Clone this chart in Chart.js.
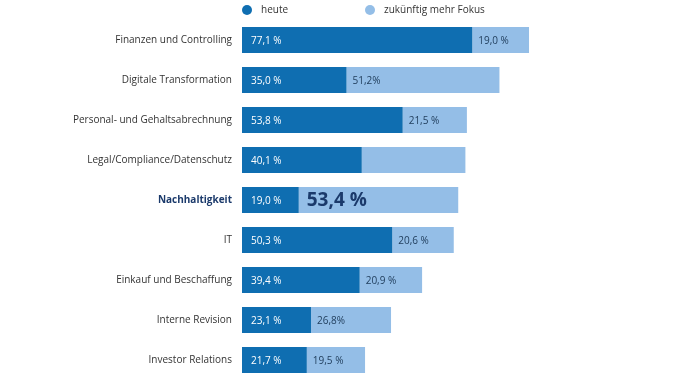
<!DOCTYPE html>
<html><head><meta charset="utf-8">
<script src="https://cdn.jsdelivr.net/npm/chart.js@4/dist/chart.umd.min.js"></script>
<style>html,body{margin:0;padding:0;background:#fff;overflow:hidden}canvas{display:block}</style>
</head><body><canvas id="c" width="700" height="382"></canvas>
<script>
const categories = ["Finanzen und Controlling","Digitale Transformation","Personal- und Gehaltsabrechnung","Legal/Compliance/Datenschutz","Nachhaltigkeit","IT","Einkauf und Beschaffung","Interne Revision","Investor Relations"];
const heute = [77.1,35.0,53.8,40.1,19.0,50.3,39.4,23.1,21.7];
const zukunft = [19.0,51.2,21.5,34.7,53.4,20.6,20.9,26.8,19.5];
const heuteLabels = ["77,1 %","35,0 %","53,8 %","40,1 %","19,0 %","50,3 %","39,4 %","23,1 %","21,7 %"];
const zukunftLabels = ["19,0 %","51,2%","21,5 %","","53,4 %","20,6 %","20,9 %","26,8%","19,5 %"];
const seriesNames = ["heute","zukünftig mehr Fokus"];
const highlightIndex = 4;

const DARK = "#0f6eb1", LIGHT = "#94bee7", NAVY = "#1b3a6b";
const FONT = "'Open Sans', sans-serif";

const labelPlugin = {
  id: "valLabels",
  afterDatasetsDraw(chart) {
    const ctx = chart.ctx;
    ctx.save();
    ctx.textBaseline = "middle";
    ctx.textAlign = "left";
    chart.data.datasets.forEach((ds, di) => {
      const meta = chart.getDatasetMeta(di);
      const texts = di === 0 ? heuteLabels : zukunftLabels;
      meta.data.forEach((bar, i) => {
        const t = texts[i];
        if (!t) return;
        const start = bar.base;
        if (di === 1 && i === highlightIndex) {
          ctx.font = "bold 19px " + FONT;
          ctx.fillStyle = NAVY;
          ctx.fillText(t, start + 8, bar.y + 1);
        } else {
          ctx.font = "10px " + FONT;
          ctx.fillStyle = di === 0 ? "#ffffff" : "#23405f";
          ctx.fillText(t, start + (di === 0 ? 9 : 6), bar.y + 1);
        }
      });
    });
    ctx.restore();
  }
};

const legendPlugin = {
  id: "customLegend",
  afterDraw(chart) {
    const ctx = chart.ctx;
    ctx.save();
    ctx.font = "10px " + FONT;
    ctx.textBaseline = "middle";
    const items = [{x: 247, c: DARK}, {x: 370, c: LIGHT}];
    items.forEach((it, i) => {
      ctx.fillStyle = it.c;
      ctx.beginPath();
      ctx.arc(it.x, 10, 5, 0, Math.PI * 2);
      ctx.fill();
      ctx.fillStyle = "#333333";
      ctx.fillText(seriesNames[i], it.x + 14, 10);
    });
    ctx.restore();
  }
};

new Chart(document.getElementById("c"), {
  type: "bar",
  data: {
    labels: categories,
    datasets: [
      {label: seriesNames[0], data: heute, backgroundColor: DARK},
      {label: seriesNames[1], data: zukunft, backgroundColor: LIGHT}
    ]
  },
  options: {
    indexAxis: "y",
    responsive: false,
    maintainAspectRatio: false,
    animation: false,
    layout: {padding: {top: 20, right: 10, bottom: 2, left: 0}},
    datasets: {bar: {barPercentage: 0.65, categoryPercentage: 1}},
    plugins: {legend: {display: false}, tooltip: {enabled: false}},
    scales: {
      x: {stacked: true, min: 0, max: 150, display: false},
      y: {
        stacked: true,
        grid: {display: false, drawTicks: false},
        border: {display: false},
        afterFit(scale) { scale.width = 242; scale.paddingTop = 0; scale.paddingBottom = 0; },
        ticks: {
          padding: 10,
          font: (c) => c.index === highlightIndex ? {family: FONT, size: 10, weight: "bold"} : {family: FONT, size: 10},
          color: (c) => c.index === highlightIndex ? NAVY : "#333333"
        }
      }
    }
  },
  plugins: [labelPlugin, legendPlugin]
});
</script>
</body></html>
